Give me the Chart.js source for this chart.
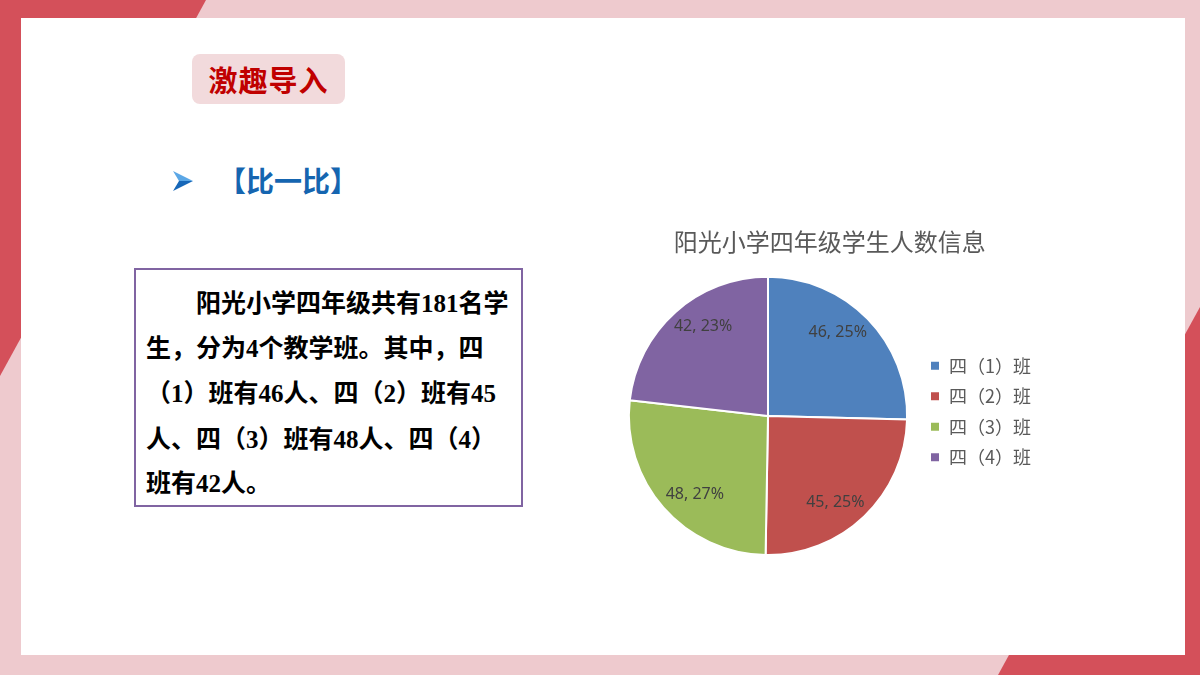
<!DOCTYPE html>
<html lang="zh-CN">
<head>
<meta charset="utf-8">
<title>阳光小学四年级学生人数信息</title>
<script src="https://cdn.jsdelivr.net/npm/chart.js@4.4.1/dist/chart.umd.min.js"></script>
<style>
  html, body { margin: 0; padding: 0; }
  body { width: 1200px; height: 675px; position: relative; overflow: hidden; background: #EECACE; font-family: "Noto Sans CJK SC", sans-serif; }
  #bg { position: absolute; left: 0; top: 0; }
  .tag { position: absolute; left: 192px; top: 54px; width: 153px; height: 50px; border-radius: 8px; background: #F2DADC;
         color: #C00000; font-weight: bold; font-size: 29px; line-height: 50px; text-align: center; letter-spacing: 1px; }
  .arrow { position: absolute; left: 172px; top: 170px; }
  .sub { position: absolute; left: 218px; top: 162px; color: #1565B0; font-weight: bold; font-size: 28px; line-height: 36px; white-space: nowrap; }
  .box { position: absolute; left: 134px; top: 268px; width: 385px; height: 235px; border: 2px solid #8064A2; background: #fff;
         font-family: "Liberation Serif", "Noto Sans CJK SC", serif; font-weight: bold; font-size: 25px; color: #000; }
  .box div { position: absolute; left: 10px; white-space: nowrap; line-height: 30px; }
  #chartWrap { position: absolute; left: 600px; top: 220px; }
</style>
</head>
<body>
<svg id="bg" width="1200" height="675">
  <polygon points="0,0 206,0 0,376" fill="#D4505A"/>
  <polygon points="1200,307 1200,675 998,675" fill="#D4505A"/>
  <rect x="21" y="18" width="1164" height="637" fill="#FFFFFF"/>
</svg>

<div class="tag">激趣导入</div>
<svg class="arrow" width="22" height="22">
  <polygon points="1,1 21,11 7,11" fill="#5BA7E6"/>
  <polygon points="1,21 21,11 7,11" fill="#1767B8"/>
</svg>
<div class="sub">【比一比】</div>

<div class="box">
  <div style="top:19px;left:60px">阳光小学四年级共有181名学</div>
  <div style="top:64px">生，分为4个教学班。其中，四</div>
  <div style="top:109px">（1）班有46人、四（2）班有45</div>
  <div style="top:155px">人、四（3）班有48人、四（4）</div>
  <div style="top:199px">班有42人。</div>
</div>

<div id="chartWrap"><canvas id="pieChart" width="441" height="336"></canvas></div>

<script>
// 数据
const classNames = ['四（1）班', '四（2）班', '四（3）班', '四（4）班'];
const studentCounts = [46, 45, 48, 42];
const sliceColors = ['#4F81BD', '#C0504D', '#9BBB59', '#8064A2'];
const chartTitle = '阳光小学四年级学生人数信息';

const total = studentCounts.reduce((a, b) => a + b, 0);

// 在扇区内写 "数量, 百分比"
const sliceLabels = {
    id: 'sliceLabels',
    afterDatasetsDraw(chart) {
        const { ctx } = chart;
        const meta = chart.getDatasetMeta(0);
        ctx.save();
        ctx.font = '16px "Noto Sans", sans-serif';
        ctx.fillStyle = '#404040';
        ctx.textAlign = 'center';
        ctx.textBaseline = 'middle';
        meta.data.forEach((arc, i) => {
            const { x, y, startAngle, endAngle, outerRadius } = arc.getProps(['x', 'y', 'startAngle', 'endAngle', 'outerRadius'], true);
            const mid = (startAngle + endAngle) / 2;
            const lx = x + Math.cos(mid) * outerRadius * 0.70;
            const ly = y + Math.sin(mid) * outerRadius * 0.86;
            const v = studentCounts[i];
            const pct = Math.round(v / total * 100);
            ctx.fillText(v + ', ' + pct + '%', lx, ly);
        });
        ctx.restore();
    }
};

new Chart(document.getElementById('pieChart'), {
    type: 'pie',
    data: {
        labels: classNames,
        datasets: [{
            data: studentCounts,
            backgroundColor: sliceColors,
            borderColor: '#FFFFFF',
            borderWidth: 2
        }]
    },
    options: {
        responsive: false,
        animation: false,
        layout: {
            padding: { left: 18.5, right: 0, top: 0, bottom: 0 }
        },
        plugins: {
            tooltip: { enabled: false },
            title: {
                display: true,
                text: chartTitle,
                color: '#595959',
                font: { size: 24, weight: 'normal', family: '"Noto Sans CJK SC", sans-serif' },
                padding: { top: 7, bottom: 20 }
            },
            legend: {
                display: true,
                position: 'right',
                align: 'center',
                // 空标题只用来把图例往下推一点
                title: {
                    display: true,
                    text: ' ',
                    font: { size: 11 },
                    padding: { top: 34, bottom: 0 }
                },
                labels: {
                    boxWidth: 10,
                    boxHeight: 10,
                    padding: 12.5,
                    color: '#595959',
                    font: { size: 18, family: '"Noto Sans CJK SC", sans-serif' }
                }
            }
        }
    },
    plugins: [sliceLabels]
});
</script>
</body>
</html>
